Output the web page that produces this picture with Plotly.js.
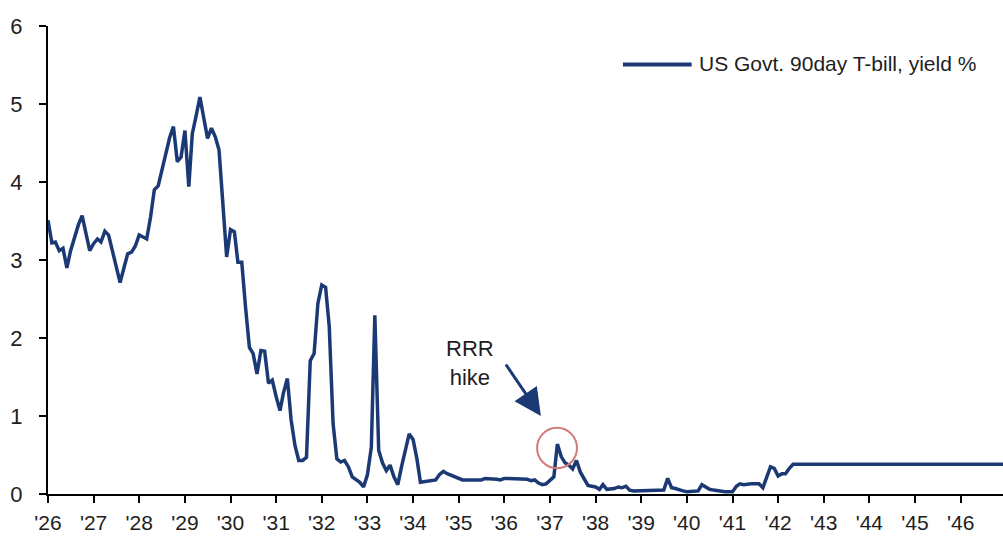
<!DOCTYPE html>
<html>
<head>
<meta charset="utf-8">
<script src="https://cdn.plot.ly/plotly-3.0.1.min.js"></script>
<style>html,body{margin:0;padding:0;background:#fff;}#chart{width:1003px;height:536px;}</style>
</head>
<body>
<div id="chart"></div>
<script>
// Monthly series, Jan 1926 onwards
var startYear = 1926;
var yields = [
  3.51, 3.22, 3.23, 3.12, 3.15, 2.90, 3.12, 3.30, 3.45, 3.57, 3.35, 3.12,
  3.21, 3.27, 3.23, 3.37, 3.32, 3.12, 2.93, 2.71, 2.90, 3.08, 3.10, 3.18,
  3.32, 3.30, 3.27, 3.55, 3.90, 3.95, 4.15, 4.36, 4.57, 4.71, 4.26, 4.32,
  4.66, 3.94, 4.62, 4.85, 5.09, 4.82, 4.56, 4.69, 4.58, 4.41, 3.70, 3.04,
  3.39, 3.36, 2.97, 2.97, 2.40, 1.88, 1.80, 1.54, 1.84, 1.83, 1.42, 1.46,
  1.25, 1.07, 1.30, 1.48, 0.95, 0.62, 0.43, 0.43, 0.47, 1.71, 1.80, 2.44,
  2.68, 2.65, 2.15, 0.90, 0.45, 0.41, 0.43, 0.35, 0.22, 0.19, 0.15, 0.09,
  0.25, 0.60, 2.29, 0.56, 0.40, 0.30, 0.37, 0.22, 0.12, 0.35, 0.58, 0.77,
  0.70, 0.45, 0.15, 0.16, 0.17, 0.18, 0.18, 0.25, 0.29, 0.26, 0.24, 0.21,
  0.19, 0.18, 0.18, 0.18, 0.18, 0.18, 0.18, 0.20, 0.20, 0.20, 0.19, 0.18,
  0.20, 0.20, 0.20, 0.20, 0.20, 0.20, 0.19, 0.17, 0.18, 0.14, 0.12, 0.13,
  0.18, 0.22, 0.64, 0.48, 0.40, 0.37, 0.32, 0.43, 0.28, 0.20, 0.11, 0.10,
  0.09, 0.06, 0.12, 0.06, 0.06, 0.07, 0.09, 0.08, 0.10, 0.05, 0.04, 0.04,
  0.04, 0.04, 0.04, 0.04, 0.04, 0.04, 0.05, 0.20, 0.08, 0.07, 0.05, 0.04,
  0.03, 0.03, 0.03, 0.04, 0.12, 0.09, 0.06, 0.05, 0.04, 0.04, 0.03, 0.03,
  0.03, 0.10, 0.13, 0.12, 0.13, 0.13, 0.13, 0.13, 0.08, 0.22, 0.35, 0.33,
  0.23, 0.26, 0.26, 0.33, 0.38, 0.38, 0.38, 0.38, 0.38, 0.38, 0.38, 0.38,
  0.38, 0.38, 0.38, 0.38, 0.38, 0.38, 0.38, 0.38, 0.38, 0.38, 0.38, 0.38,
  0.38, 0.38, 0.38, 0.38, 0.38, 0.38, 0.38, 0.38, 0.38, 0.38, 0.38, 0.38,
  0.38, 0.38, 0.38, 0.38, 0.38, 0.38, 0.38, 0.38, 0.38, 0.38, 0.38, 0.38,
  0.38, 0.38, 0.38, 0.38, 0.38, 0.38, 0.38, 0.38, 0.38, 0.38, 0.38, 0.38,
  0.38
];
var tickYears = [1926,1927,1928,1929,1930,1931,1932,1933,1934,1935,1936,1937,1938,1939,1940,1941,1942,1943,1944,1945,1946];
var tickLabels = ["'26","'27","'28","'29","'30","'31","'32","'33","'34","'35","'36","'37","'38","'39","'40","'41","'42","'43","'44","'45","'46"];
var yTicks = [0,1,2,3,4,5,6];
var seriesName = "US Govt. 90day T-bill, yield %";
var noteText = "RRR<br>hike";

function pad(n){return n<10?'0'+n:''+n;}
var dates = yields.map(function(_, i){
  var y = startYear + Math.floor(i/12), m = i%12 + 1;
  return y + '-' + pad(m) + '-01';
});
var tickDates = tickYears.map(function(y){return y + '-01-01';});

var navy = '#1b3a75';
var fontFam = 'Liberation Sans, Arial, sans-serif';
var txt = '#1e1e1e';

var trace = {
  x: dates, y: yields, type: 'scatter', mode: 'lines', name: seriesName,
  line: {color: navy, width: 3.5}, showlegend: false, hoverinfo: 'x+y'
};

var layout = {
  width: 1003, height: 536,
  margin: {l: 48, r: 0, t: 26, b: 42, pad: 0},
  paper_bgcolor: '#fff', plot_bgcolor: '#fff',
  font: {family: fontFam, size: 21, color: txt},
  xaxis: {
    type: 'date', range: ['1926-01-01', '1946-12-06'],
    tickmode: 'array', tickvals: tickDates, ticktext: tickLabels,
    showline: true, linecolor: '#000', linewidth: 2,
    ticks: 'outside', ticklen: 7, tickwidth: 2, tickcolor: '#000',
    showgrid: false, zeroline: false, ticklabelstandoff: 2,
    tickfont: {family: fontFam, size: 21, color: txt}
  },
  yaxis: {
    range: [0, 6], tickmode: 'array', tickvals: yTicks,
    showline: true, linecolor: '#000', linewidth: 2,
    ticks: 'outside', ticklen: 7, tickwidth: 2, tickcolor: '#000',
    showgrid: false, zeroline: false, ticklabelstandoff: 12,
    tickfont: {family: fontFam, size: 22, color: txt}
  },
  shapes: [
    {type: 'line', xref: 'paper', yref: 'paper', x0: 0.602, x1: 0.674, y0: 0.918, y1: 0.918,
     line: {color: navy, width: 4}},
    {type: 'circle', xref: 'x', yref: 'y', x0: '1936-09-20', x1: '1937-08-05', y0: 0.33, y1: 0.85,
     line: {color: '#d27a78', width: 2}}
  ],
  annotations: [
    {xref: 'paper', yref: 'paper', x: 0.6796, y: 0.92, xanchor: 'left', yanchor: 'middle',
     text: seriesName, showarrow: false, font: {family: fontFam, size: 21, color: txt}},
    {xref: 'x', yref: 'y', x: '1935-04-01', y: 1.68, xanchor: 'center', yanchor: 'middle',
     text: noteText, showarrow: false, font: {family: fontFam, size: 22, color: txt}},
    {xref: 'x', yref: 'y', x: '1936-10-20', y: 1.0, text: '', showarrow: true,
     ax: -36, ay: -53, arrowhead: 2, arrowsize: 1.8, arrowwidth: 3, arrowcolor: navy}
  ]
};

Plotly.newPlot('chart', [trace], layout, {displayModeBar: false, staticPlot: true});
</script>
</body>
</html>
